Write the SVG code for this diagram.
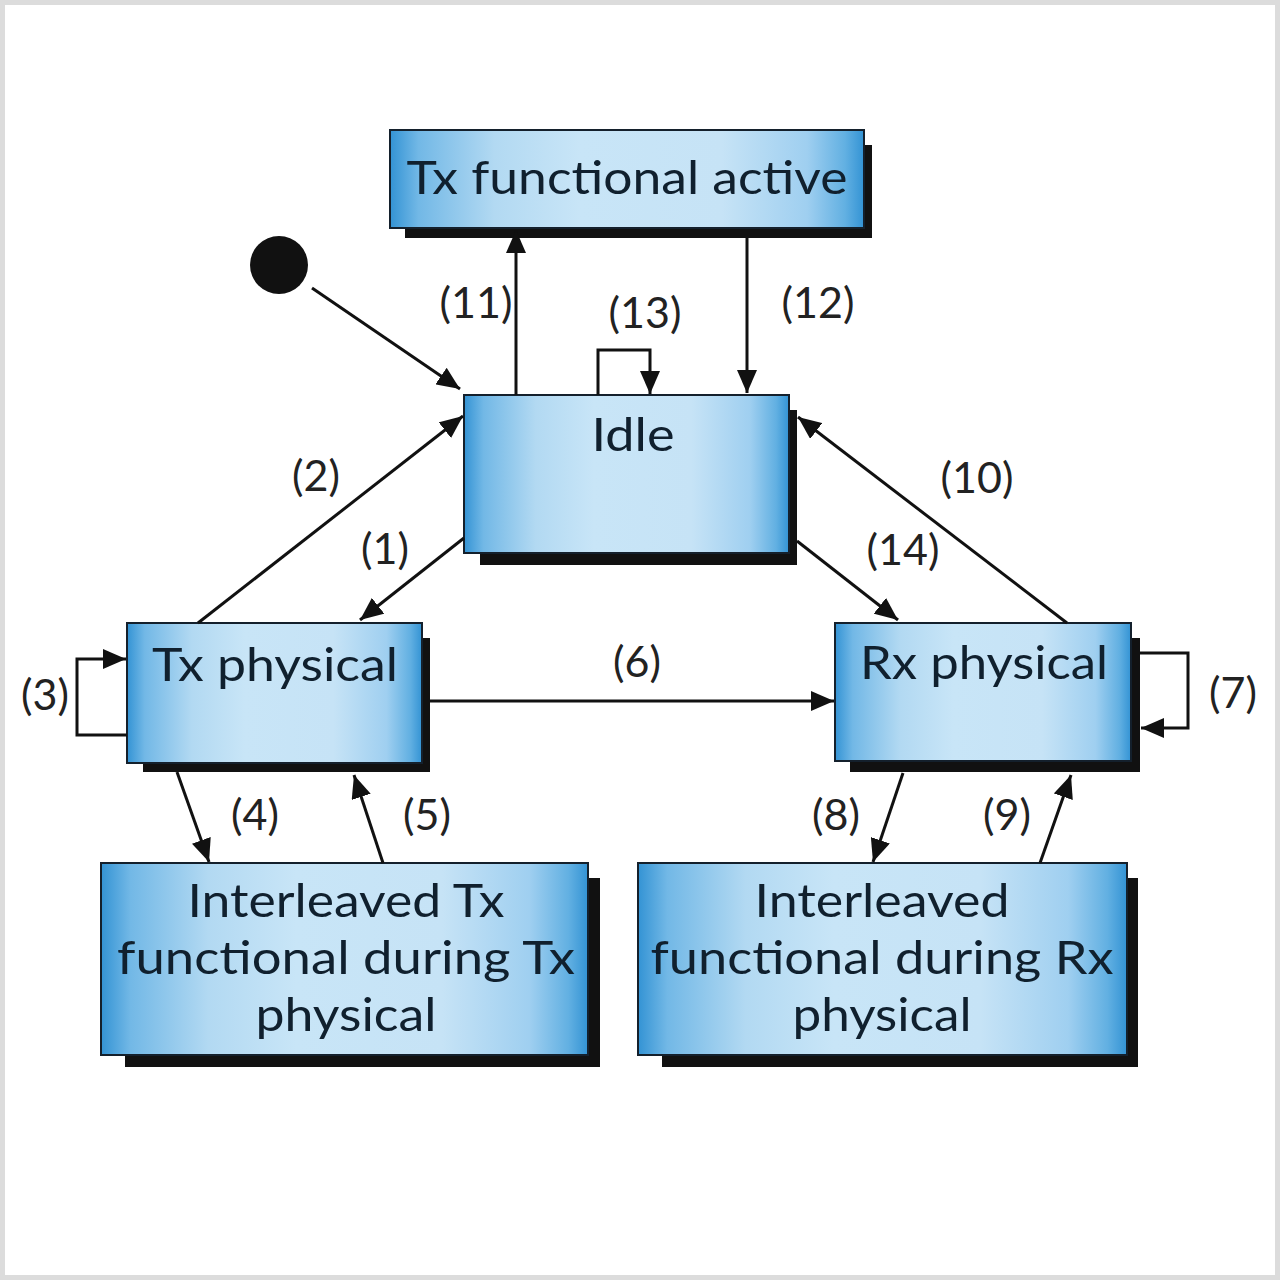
<svg xmlns="http://www.w3.org/2000/svg" width="1280" height="1280" viewBox="0 0 1280 1280">
<style>
.box{stroke:#14202c;stroke-width:2;fill:url(#g)}
.sh{fill:#111}
.t{font-family:Lato,"Open Sans","Liberation Sans",sans-serif;font-size:47px;fill:#10202e;text-anchor:middle}
.l{font-family:Lato,"Open Sans","Liberation Sans",sans-serif;font-size:43px;fill:#222;text-anchor:middle}
.c{fill:none;stroke:#111;stroke-width:3;marker-end:url(#a)}
</style>
<defs>
<linearGradient id="g" x1="0" y1="0" x2="1" y2="0">
<stop offset="0" stop-color="#3393d4"/>
<stop offset="0.06" stop-color="#72b8e6"/>
<stop offset="0.22" stop-color="#b2d9f2"/>
<stop offset="0.4" stop-color="#c8e5f7"/>
<stop offset="0.7" stop-color="#c6e3f6"/>
<stop offset="0.88" stop-color="#9fcff0"/>
<stop offset="0.96" stop-color="#62b0e2"/>
<stop offset="1" stop-color="#3393d4"/>
</linearGradient>
<marker id="a" markerUnits="userSpaceOnUse" markerWidth="24" markerHeight="20" refX="23" refY="10" orient="auto">
<path d="M0,0 L23,10 L0,20 z" fill="#111"/>
</marker>
</defs>
<rect x="0" y="0" width="1280" height="1280" fill="#fff"/>
<rect x="2.5" y="2.5" width="1275" height="1275" fill="none" stroke="#dcdcdc" stroke-width="5"/>

<g id="start"><circle cx="279" cy="265" r="29" fill="#111"/></g>

<g id="tx-functional-active">
<rect class="sh" x="405" y="145" width="467" height="93"/>
<rect class="box" x="390" y="130" width="474" height="98"/>
<text class="t" x="627" y="194" textLength="441" lengthAdjust="spacingAndGlyphs">Tx functional active</text>
</g>

<g id="idle">
<rect class="sh" x="480" y="410" width="317" height="155"/>
<rect class="box" x="464" y="395" width="325" height="158"/>
<text class="t" x="633" y="451" textLength="83" lengthAdjust="spacingAndGlyphs">Idle</text>
</g>

<g id="tx-physical">
<rect class="sh" x="143" y="638" width="287" height="134"/>
<rect class="box" x="127" y="623" width="295" height="140"/>
<text class="t" x="275" y="681" textLength="246" lengthAdjust="spacingAndGlyphs">Tx physical</text>
</g>

<g id="rx-physical">
<rect class="sh" x="850" y="638" width="290" height="134"/>
<rect class="box" x="835" y="623" width="296" height="138"/>
<text class="t" x="984" y="679" textLength="248" lengthAdjust="spacingAndGlyphs">Rx physical</text>
</g>

<g id="interleaved-tx">
<rect class="sh" x="125" y="878" width="475" height="189"/>
<rect class="box" x="101" y="863" width="487" height="192"/>
<text class="t" x="346" y="917" textLength="317" lengthAdjust="spacingAndGlyphs">Interleaved Tx</text>
<text class="t" x="346" y="974" textLength="458" lengthAdjust="spacingAndGlyphs">functional during Tx</text>
<text class="t" x="346" y="1031" textLength="181" lengthAdjust="spacingAndGlyphs">physical</text>
</g>

<g id="interleaved-rx">
<rect class="sh" x="662" y="878" width="476" height="189"/>
<rect class="box" x="638" y="863" width="489" height="192"/>
<text class="t" x="882" y="917" textLength="255" lengthAdjust="spacingAndGlyphs">Interleaved</text>
<text class="t" x="882" y="974" textLength="463" lengthAdjust="spacingAndGlyphs">functional during Rx</text>
<text class="t" x="882" y="1031" textLength="179" lengthAdjust="spacingAndGlyphs">physical</text>
</g>

<g id="connectors">
<line class="c" x1="312" y1="288" x2="460" y2="389"/>
<line class="c" x1="516" y1="395" x2="516" y2="230"/>
<line class="c" x1="747" y1="238" x2="747" y2="393"/>
<polyline class="c" points="598,395 598,350 650,350 650,394"/>
<line class="c" x1="198" y1="623" x2="463" y2="416"/>
<line class="c" x1="464" y1="538" x2="360" y2="620"/>
<line class="c" x1="797" y1="541" x2="898" y2="620"/>
<line class="c" x1="1067" y1="623" x2="798" y2="417"/>
<line class="c" x1="430" y1="701" x2="834" y2="701"/>
<polyline class="c" points="127,735 77,735 77,659 126,659"/>
<polyline class="c" points="1140,653 1188,653 1188,728 1141,728"/>
<line class="c" x1="177" y1="772" x2="209" y2="862"/>
<line class="c" x1="383" y1="863" x2="354" y2="775"/>
<line class="c" x1="903" y1="773" x2="873" y2="862"/>
<line class="c" x1="1040" y1="863" x2="1071" y2="775"/>
<text class="l" x="476" y="318">(11)</text>
<text class="l" x="818" y="318">(12)</text>
<text class="l" x="645" y="328">(13)</text>
<text class="l" x="316" y="491">(2)</text>
<text class="l" x="385" y="564">(1)</text>
<text class="l" x="903" y="565">(14)</text>
<text class="l" x="977" y="493">(10)</text>
<text class="l" x="637" y="677">(6)</text>
<text class="l" x="45" y="710">(3)</text>
<text class="l" x="1233" y="708">(7)</text>
<text class="l" x="255" y="830">(4)</text>
<text class="l" x="427" y="830">(5)</text>
<text class="l" x="836" y="830">(8)</text>
<text class="l" x="1007" y="830">(9)</text>
</g>
</svg>
